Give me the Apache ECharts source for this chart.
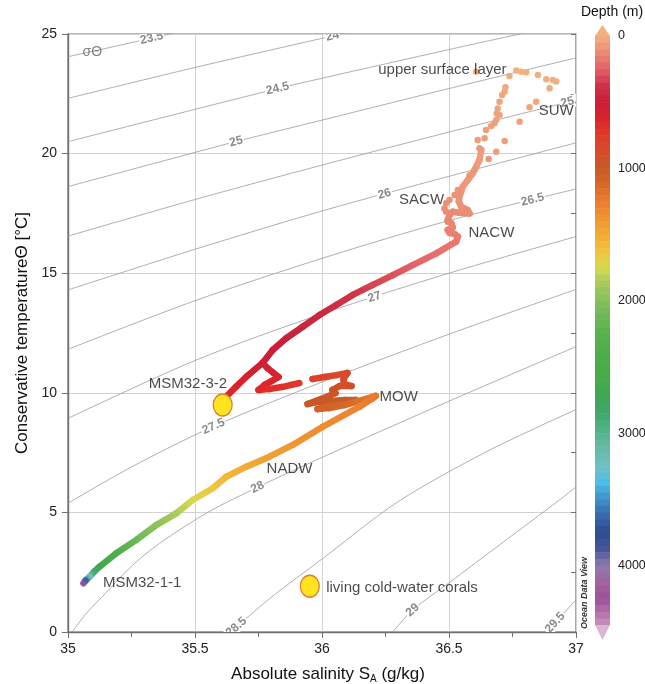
<!DOCTYPE html>
<html>
<head>
<meta charset="utf-8">
<title>Conservative temperature – Absolute salinity diagram</title>
<script src="https://cdn.jsdelivr.net/npm/echarts@6.0.0/dist/echarts.min.js"></script>
<style>
  html, body { margin: 0; padding: 0; background: #ffffff; }
  #chart { width: 645px; height: 684px; }
</style>
</head>
<body>
<div id="chart"></div>
<script>
// ---------- axis ticks ----------
const salinityTicks = [35, 35.5, 36, 36.5, 37];
const temperatureTicks = [0, 5, 10, 15, 20, 25];
const depthTicks = [0, 1000, 2000, 3000, 4000];
const depthMax = 4450;

// ---------- isopycnals σΘ, vertices as [SA, Θ] ----------
const isoLevels = ['23.5', '24', '24.5', '25', '25.5', '26', '26.5', '27', '27.5', '28', '28.5', '29', '29.5'];
const iso23_5 = [[35.0, 24.05], [35.2, 24.52], [35.45, 25.12]];
const iso24 = [[35.0, 22.31], [35.5, 23.6], [36.0, 24.82], [36.1, 25.06]];
const iso24_5 = [[35.0, 20.5], [35.5, 21.85], [35.83, 22.73], [36.0, 23.15], [36.5, 24.35], [36.8, 25.05]];
const iso25 = [[35.0, 18.62], [35.5, 20.05], [35.66, 20.5], [36.0, 21.4], [36.5, 22.72], [37.0, 24.0]];
const iso25_5 = [[35.0, 16.55], [35.5, 18.08], [36.0, 19.52], [36.5, 20.9], [37.0, 22.24]];
const iso26 = [[35.0, 14.3], [35.5, 16.0], [36.0, 17.6], [36.5, 19.05], [37.0, 20.45]];
const iso26_5 = [[35.0, 11.82], [35.5, 13.85], [36.0, 15.62], [36.5, 17.2], [37.0, 18.52]];
const iso27 = [[35.0, 8.93], [35.5, 11.35], [36.0, 13.3], [36.5, 15.0], [37.0, 16.53]];
const iso27_5 = [[35.0, 5.38], [35.25, 6.9], [35.57, 8.58], [36.0, 10.45], [36.5, 12.45], [37.0, 14.32]];
const iso28 = [[35.016, 0], [35.07, 0.75], [35.137, 1.5], [35.25, 2.75], [35.36, 3.7], [35.55, 5.0], [35.75, 6.07], [36.0, 7.3], [36.5, 9.65], [37.0, 11.93]];
const iso28_5 = [[35.64, 0], [35.8, 1.45], [36.0, 3.05], [36.3, 5.45], [36.65, 7.55], [37.0, 9.3]];
const iso29 = [[36.279, 0], [36.357, 0.92], [36.502, 2.07], [36.7, 3.65], [36.935, 5.52], [37.0, 6.07]];
const iso29_5 = [[36.885, 0], [36.94, 0.65], [37.0, 1.34]];
const isopycnals = [iso23_5, iso24, iso24_5, iso25, iso25_5, iso26, iso26_5, iso27, iso27_5, iso28, iso28_5, iso29, iso29_5];
// salinity at which each isopycnal carries its label
const isoLabelSA = [35.329, 36.041, 35.825, 35.662, 36.985, 36.246, 36.829, 36.207, 35.573, 35.746, 35.663, 36.357, 36.918];

// ---------- CTD profile pieces: [SA (g/kg), Θ (°C), depth (m)] ----------
const surfaceLayer = [
  [36.607, 23.42, 20], [36.738, 23.24, 15], [36.765, 23.47, 4], [36.784, 23.42, 5],
  [36.804, 23.40, 6], [36.850, 23.29, 8], [36.883, 23.11, 10], [36.909, 23.08, 10],
  [36.922, 23.01, 12], [36.896, 22.73, 22], [36.843, 22.17, 35], [36.817, 21.94, 42],
  [36.778, 21.33, 52], [36.719, 20.53, 64], [36.686, 20.08, 72], [36.656, 19.77, 80],
  [36.722, 22.77, 28], [36.719, 22.59, 32], [36.709, 22.45, 36], [36.699, 22.17, 40],
  [36.692, 21.89, 44], [36.688, 21.68, 48], [36.699, 21.61, 50], [36.686, 21.40, 54],
  [36.679, 21.27, 57], [36.666, 21.15, 60], [36.646, 20.99, 63], [36.640, 20.64, 68],
  [36.620, 20.22, 74], [36.613, 20.57, 70], [36.600, 19.31, 88], [36.581, 19.10, 92]
];
const sacwTrack = [
  [36.535, 18.48, 95], [36.522, 18.27, 100], [36.502, 18.06, 105], [36.489, 17.92, 110],
  [36.482, 17.71, 115], [36.489, 17.57, 120], [36.495, 17.15, 135]
];
const centralBranch = [
  [36.627, 20.15, 60], [36.620, 19.73, 65], [36.607, 19.45, 70], [36.594, 19.18, 75],
  [36.574, 18.90, 80], [36.554, 18.62, 85], [36.548, 18.41, 90], [36.541, 18.20, 95],
  [36.539, 17.99, 100], [36.548, 17.78, 105], [36.574, 17.64, 110], [36.581, 17.50, 115],
  [36.541, 17.53, 120], [36.515, 17.57, 125], [36.502, 17.43, 130], [36.495, 17.22, 135],
  [36.509, 17.09, 140], [36.515, 16.92, 145], [36.495, 16.81, 150], [36.502, 16.69, 155],
  [36.522, 16.64, 160], [36.535, 16.53, 165], [36.528, 16.32, 175], [36.450, 15.83, 210],
  [36.357, 15.34, 250], [36.279, 14.92, 290], [36.200, 14.51, 330], [36.121, 14.09, 370],
  [36.056, 13.67, 400], [35.990, 13.25, 430], [35.924, 12.76, 460], [35.859, 12.28, 490],
  [35.806, 11.79, 510], [35.766, 11.25, 540], [35.702, 10.67, 580], [35.662, 10.26, 610],
  [35.629, 9.91, 640]
];
const stepsUpper = [
  [35.766, 11.25, 545], [35.785, 11.04, 565], [35.809, 10.83, 585], [35.829, 10.66, 600],
  [35.801, 10.49, 620], [35.774, 10.33, 640], [35.750, 10.12, 660], [35.793, 10.16, 680],
  [35.841, 10.24, 700], [35.880, 10.33, 720], [35.911, 10.41, 740]
];
const stepsLower = [
  [35.963, 10.58, 790], [36.010, 10.66, 810], [36.057, 10.74, 830], [36.100, 10.83, 850],
  [36.085, 10.58, 870], [36.085, 10.37, 890], [36.116, 10.28, 905], [36.069, 10.28, 915],
  [36.041, 10.12, 930], [36.053, 9.99, 950], [36.029, 9.87, 965], [35.943, 9.53, 985],
  [35.990, 9.62, 995], [36.037, 9.66, 1005], [36.089, 9.70, 1015], [36.132, 9.70, 1030],
  [36.089, 9.53, 1045], [36.029, 9.45, 1060], [35.982, 9.32, 1075], [36.029, 9.36, 1090],
  [36.089, 9.49, 1120], [36.148, 9.66, 1170], [36.211, 9.87, 1230]
];
const deepBranch = [
  [36.211, 9.87, 1230], [36.200, 9.77, 1240], [36.148, 9.42, 1270], [36.003, 8.58, 1330],
  [35.885, 7.82, 1390], [35.793, 7.33, 1440], [35.702, 6.91, 1500], [35.623, 6.49, 1570],
  [35.570, 6.01, 1640], [35.491, 5.52, 1740], [35.426, 4.96, 1860], [35.347, 4.47, 1970],
  [35.269, 3.85, 2120], [35.190, 3.29, 2350], [35.124, 2.73, 2650], [35.104, 2.53, 2850],
  [35.085, 2.31, 3200], [35.069, 2.15, 3650], [35.061, 2.04, 4250]
];

// living cold-water corals: station bottom and legend symbol
const coralSites = [[35.609, 9.49], [35.952, 1.91]];

// water-mass and station annotations: [text, SA, Θ]
const annotations = [
  ['upper surface layer', 36.474, 23.49],
  ['SUW', 36.922, 21.79],
  ['SACW', 36.392, 18.06],
  ['NACW', 36.667, 16.69],
  ['MSM32-3-2', 35.472, 10.37],
  ['MOW', 36.302, 9.84],
  ['NADW', 35.872, 6.80],
  ['MSM32-1-1', 35.292, 2.04],
  ['living cold-water corals', 36.315, 1.83]
];

// depth palette, evenly spaced from 0 to 4500 m
const depthPalette = [
  '#f2b27f', '#eb8a74', '#e26268', '#cf3246', '#c81e3a', '#db2428', '#e03a2c', '#d64c2a',
  '#c65a28', '#d8682a', '#ea7e2e', '#ef9432', '#f1aa36', '#f2c23e', '#d6da50', '#a6ca5c',
  '#86c05c', '#6cb858', '#58b04c', '#4eae48', '#4aac48', '#44aa4c', '#3ea656', '#42aa70',
  '#58b490', '#68baa8', '#72c0c2', '#4cbee8', '#3f8fcb', '#366aac', '#2c4c90', '#485698',
  '#8c7cb0', '#a2649e', '#9c5098', '#b878ac', '#d4a8c8'
];

const FONT = "'Liberation Sans', Arial, Helvetica, sans-serif";

// Θ on an isopycnal at a given salinity (piecewise linear between vertices)
function thetaOn(line, sa) {
  for (let i = 1; i < line.length; i++) {
    const a = line[i - 1], b = line[i];
    if (sa <= b[0] || i === line.length - 1) {
      const t = (sa - a[0]) / (b[0] - a[0]);
      return a[1] + t * (b[1] - a[1]);
    }
  }
  return line[0][1];
}

// thick profile track, each segment shaded from the previous sample's colour to its own
function trackSeries(name, pts, width) {
  const seen = [];
  return {
    type: 'custom', name: name, xAxisIndex: 0, yAxisIndex: 0, z: 5, clip: true, silent: true,
    data: pts,
    encode: { x: 0, y: 1 },
    renderItem: function (params, api) {
      const i = params.dataIndex;
      const col = api.visual('color');
      seen[i] = col;
      const p = api.coord([api.value(0), api.value(1)]);
      if (i === 0) {
        return { type: 'circle', shape: { cx: p[0], cy: p[1], r: width / 2 }, style: { fill: col } };
      }
      const q = api.coord([pts[i - 1][0], pts[i - 1][1]]);
      const from = seen[i - 1] || col;
      const same = Math.abs(q[0] - p[0]) + Math.abs(q[1] - p[1]) < 0.01;
      return {
        type: 'line',
        shape: { x1: q[0], y1: q[1], x2: p[0], y2: p[1] },
        style: {
          stroke: same ? col : new echarts.graphic.LinearGradient(q[0], q[1], p[0], p[1],
            [{ offset: 0, color: from }, { offset: 1, color: col }], true),
          lineWidth: width, lineCap: 'round'
        }
      };
    }
  };
}

const series = [];

// isopycnal lines
isopycnals.forEach(function (line, k) {
  series.push({
    type: 'line', name: 'sigma ' + isoLevels[k], xAxisIndex: 0, yAxisIndex: 0,
    data: line, showSymbol: false, smooth: 0.3, silent: true, clip: true, z: 2,
    lineStyle: { color: '#9a9a9a', width: 0.8 }
  });
});

// isopycnal labels, rotated along the line
series.push({
  type: 'custom', name: 'isopycnal labels', xAxisIndex: 0, yAxisIndex: 0, z: 3, clip: true, silent: true,
  data: isoLevels.map(function (lv, k) { return [isoLabelSA[k], thetaOn(isopycnals[k], isoLabelSA[k]), k]; }),
  encode: { x: 0, y: 1 },
  renderItem: function (params, api) {
    const k = api.value(2);
    const sa = api.value(0);
    const p = api.coord([sa, api.value(1)]);
    const a = api.coord([sa - 0.03, thetaOn(isopycnals[k], sa - 0.03)]);
    const b = api.coord([sa + 0.03, thetaOn(isopycnals[k], sa + 0.03)]);
    const ang = -Math.atan2(b[1] - a[1], b[0] - a[0]);
    return {
      type: 'text', x: p[0], y: p[1], rotation: ang,
      style: {
        text: isoLevels[k], fill: '#8a8a8a', font: 'bold 12px ' + FONT,
        align: 'center', verticalAlign: 'middle', backgroundColor: '#ffffff', padding: [0, 1]
      }
    };
  }
});

const colored = [];
colored.push(series.length); series.push(trackSeries('central branch', centralBranch, 6.5));
colored.push(series.length); series.push(trackSeries('steps upper', stepsUpper, 6.5));
colored.push(series.length); series.push(trackSeries('steps lower', stepsLower, 6.5));
colored.push(series.length); series.push(trackSeries('deep branch', deepBranch, 6.5));
colored.push(series.length);
series.push({
  type: 'scatter', name: 'upper samples', xAxisIndex: 0, yAxisIndex: 0, z: 6, silent: true,
  data: surfaceLayer.concat(sacwTrack), symbolSize: 6.5, itemStyle: { opacity: 1 }
});

// coral symbols
series.push({
  type: 'scatter', name: 'corals', xAxisIndex: 0, yAxisIndex: 0, z: 7, silent: true,
  data: coralSites, symbol: 'circle', symbolSize: [19, 22],
  itemStyle: { color: '#ffe422', borderColor: '#e07a2c', borderWidth: 1.3, opacity: 1 }
});

// annotations
series.push({
  type: 'scatter', name: 'annotations', xAxisIndex: 0, yAxisIndex: 0, z: 8, silent: true,
  symbolSize: 1, itemStyle: { color: 'rgba(0,0,0,0)' },
  labelLayout: { hideOverlap: false },
  label: { show: true, position: 'inside', formatter: '{b}', fontSize: 15, color: '#1c1c1c', fontFamily: FONT },
  data: annotations.map(function (a) { return { name: a[0], value: [a[1], a[2]] }; }).concat([
    { name: 'σΘ', value: [35.096, 24.23], label: { color: '#666666', fontSize: 14 } }
  ])
});

// colour bar: depth bands on its own axis
const bandStep = 50;
const bands = [];
for (let d = 0; d < depthMax; d += bandStep) bands.push([0.5, d, d + bandStep / 2]);
colored.push(series.length);
series.push({
  type: 'custom', name: 'depth scale', xAxisIndex: 2, yAxisIndex: 2, silent: true, z: 2,
  data: bands,
  encode: { x: 0, y: 1 },
  renderItem: function (params, api) {
    const d = api.value(1);
    const x0 = api.coord([0, d])[0];
    const x1 = api.coord([1, d])[0];
    const w = x1 - x0;
    const y0 = api.coord([0.5, d])[1];
    const y1 = api.coord([0.5, Math.min(d + bandStep, depthMax)])[1];
    const kids = [{ type: 'rect', shape: { x: x0, y: y0, width: w, height: y1 - y0 + 0.6 }, style: { fill: api.visual('color') } }];
    if (params.dataIndex === 0) {
      kids.push({ type: 'polygon', shape: { points: [[x0, y0], [x1, y0], [x0 + w / 2, y0 - 11]] }, style: { fill: depthPalette[0] } });
    }
    if (params.dataIndex === bands.length - 1) {
      kids.push({ type: 'polygon', shape: { points: [[x0, y1], [x1, y1], [x0 + w / 2, y1 + 15]] }, style: { fill: '#dcb4d4' } });
    }
    return { type: 'group', children: kids };
  }
});

const axisGrey = '#707070';
const option = {
  animation: false,
  backgroundColor: '#ffffff',
  textStyle: { fontFamily: FONT },
  grid: [
    { left: 68, top: 34, width: 508, height: 598, show: true, borderColor: axisGrey, borderWidth: 1.2, backgroundColor: 'transparent', outerBoundsMode: 'none', containLabel: false },
    { left: 595, top: 36, width: 15, height: 589, show: false, outerBoundsMode: 'none', containLabel: false }
  ],
  xAxis: [
    {
      gridIndex: 0, type: 'value',
      min: salinityTicks[0], max: salinityTicks[salinityTicks.length - 1], interval: salinityTicks[1] - salinityTicks[0],
      axisLine: { lineStyle: { color: axisGrey, width: 1.4 } },
      axisTick: { length: 6, lineStyle: { color: axisGrey } },
      axisLabel: { fontSize: 14, color: '#222', margin: 10 },
      splitLine: { show: true, lineStyle: { color: '#d2d2d2', width: 1 } },
      name: 'Absolute salinity S{s|A} (g/kg)', nameLocation: 'middle', nameGap: 33,
      nameTextStyle: { fontSize: 17, color: '#111', padding: [0, 0, 0, 12], rich: { s: { fontSize: 10, color: '#111', verticalAlign: 'bottom', padding: [9, 0, 0, 0] } } }
    },
    {
      gridIndex: 0, type: 'value',
      min: salinityTicks[0], max: salinityTicks[salinityTicks.length - 1], interval: (salinityTicks[1] - salinityTicks[0]) / 2,
      axisLine: { show: false }, axisLabel: { show: false }, splitLine: { show: false },
      axisTick: { inside: true, length: 5, lineStyle: { color: axisGrey } }
    },
    { gridIndex: 1, type: 'value', min: 0, max: 1, show: false }
  ],
  yAxis: [
    {
      gridIndex: 0, type: 'value',
      min: temperatureTicks[0], max: temperatureTicks[temperatureTicks.length - 1], interval: temperatureTicks[1] - temperatureTicks[0],
      axisLine: { show: true, lineStyle: { color: axisGrey, width: 1.4 } },
      axisTick: { show: true, length: 6, lineStyle: { color: axisGrey } },
      axisLabel: { fontSize: 14, color: '#222', margin: 11 },
      splitLine: { show: true, lineStyle: { color: '#d2d2d2', width: 1 } },
      name: 'Conservative temperatureΘ [°C]', nameLocation: 'middle', nameGap: 35,
      nameTextStyle: { fontSize: 17, color: '#111' }
    },
    {
      gridIndex: 0, type: 'value',
      min: temperatureTicks[0], max: temperatureTicks[temperatureTicks.length - 1], interval: (temperatureTicks[1] - temperatureTicks[0]) / 2,
      axisLine: { show: false }, axisLabel: { show: false }, splitLine: { show: false },
      axisTick: { show: true, inside: true, length: 5, lineStyle: { color: axisGrey } }
    },
    {
      gridIndex: 1, type: 'value', inverse: true, position: 'right',
      min: depthTicks[0], max: depthMax, interval: depthTicks[1] - depthTicks[0],
      axisLine: { show: false }, axisTick: { show: false }, splitLine: { show: false },
      axisLabel: { fontSize: 12.5, color: '#222', margin: 8, showMaxLabel: false, formatter: function (v) { return String(v); } },
      name: 'Depth (m)', nameLocation: 'start', nameGap: 17,
      nameTextStyle: { fontSize: 14, color: '#111', align: 'center', verticalAlign: 'bottom', padding: [0, 0, 0, 34] }
    }
  ],
  visualMap: {
    type: 'continuous', show: false, dimension: 2, min: 0, max: 4500,
    seriesIndex: colored,
    inRange: { color: depthPalette }
  },
  graphic: [
    {
      type: 'text', x: 585, y: 593, rotation: Math.PI / 2, silent: true,
      style: { text: 'Ocean Data View', font: 'italic bold 9px ' + FONT, fill: '#333', align: 'center', verticalAlign: 'middle' }
    }
  ],
  series: series
};

const chart = echarts.init(document.getElementById('chart'), null, { renderer: 'canvas' });
chart.setOption(option);
</script>
</body>
</html>
